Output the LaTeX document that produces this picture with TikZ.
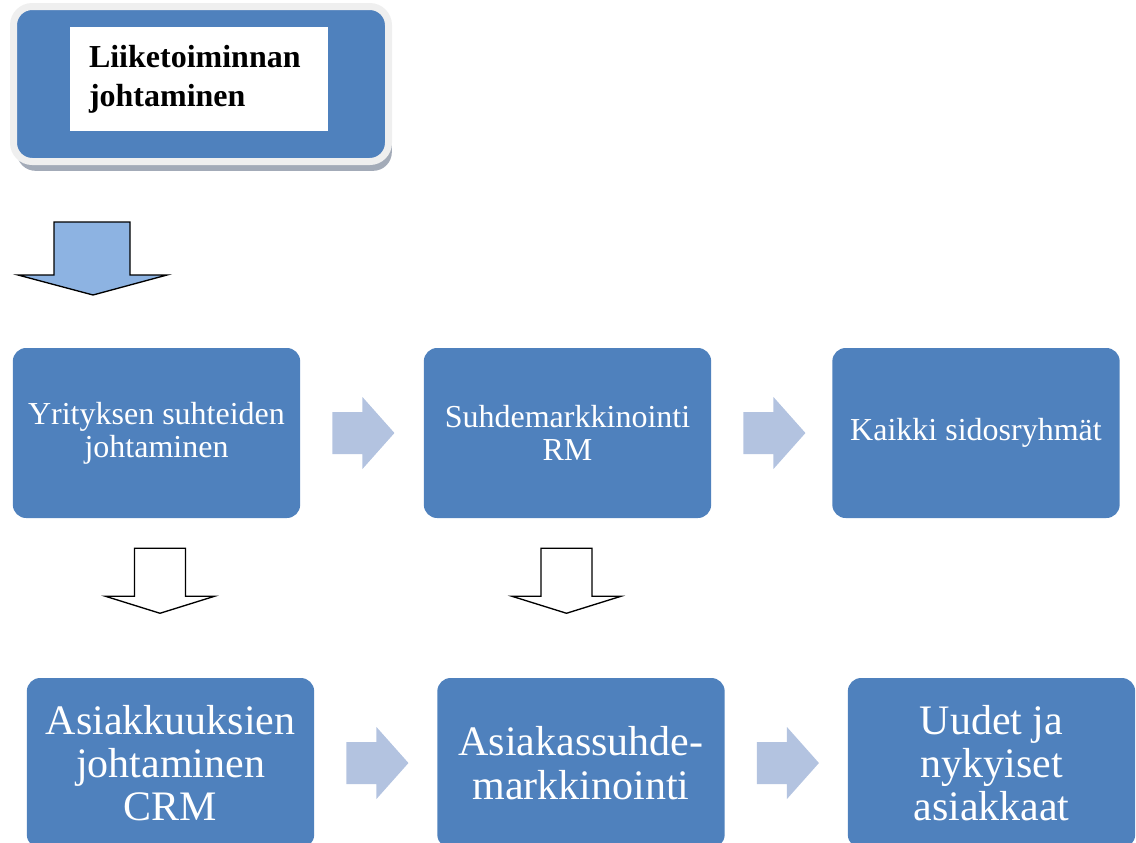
\documentclass[tikz,border=0pt]{standalone}
\usepackage{fontspec}
\setmainfont{Liberation Serif}
\usepackage{tikz}
\usetikzlibrary{calc, shadows}
\definecolor{BoxBlue}{HTML}{4F81BD}
\definecolor{PaleArrow}{HTML}{B3C3E0}
\definecolor{SkyArrow}{HTML}{8DB3E2}
\definecolor{FrameGray}{HTML}{EFEFEF}
\definecolor{ShadowGray}{HTML}{A3ABB8}
\tikzset{
  flowbox/.style={rectangle, rounded corners=10pt, fill=BoxBlue, text=white,
    align=center, minimum width=215.5pt, minimum height=127.5pt, inner sep=2pt},
  smalltext/.style={font=\fontsize{24}{25}\selectfont},
  bigtext/.style={font=\fontsize{31.5}{32.5}\selectfont},
  palearrow/.style={fill=PaleArrow},
  hollowarrow/.style={draw=black, line width=1pt, fill=white, line join=miter},
}

\begin{document}
\begin{tikzpicture}[x=0.75pt, y=-0.75pt]
  \useasboundingbox (0,0) rectangle (1136,843);
  \clip (0,0) rectangle (1136,843);
  % Top box
  \node[rectangle, rounded corners=14pt, fill=BoxBlue, draw=FrameGray, line width=5.25pt,
        minimum width=281.25pt, minimum height=116.25pt,
        drop shadow={shadow xshift=2.5pt, shadow yshift=-7pt, fill=ShadowGray, opacity=1}]
    (liike) at (201,84) {};
  \node[fill=white, minimum width=193.5pt, minimum height=78pt, text width=165pt,
        align=left, inner xsep=14pt, font=\bfseries\fontsize{24}{29}\selectfont]
    (liikeText) at (199,79) {Liiketoiminnan\\johtaminen};
  % Big arrow down
  \draw[hollowarrow, fill=SkyArrow] (54,222) -- (130,222) -- (130,275) -- (167,275)
    -- (93,295) -- (18,275) -- (54,275) -- cycle;
  % Upper row
  \node[flowbox, smalltext] (yrit) at (156.5,433) {Yrityksen suhteiden\\johtaminen};
  \node[flowbox, smalltext] (suhde) at (567.5,433) {Suhdemarkkinointi\\RM};
  \node[flowbox, smalltext] (kaikki) at (976,433) {Kaikki sidosryhmät};
  % Lower row
  \node[flowbox, bigtext] (asiak) at (170.5,763) {Asiakkuuksien\\johtaminen\\CRM};
  \node[flowbox, bigtext] (asuhde) at (581,763) {Asiakassuhde-\\markkinointi};
  \node[flowbox, bigtext] (uudet) at (991.5,763) {Uudet ja\\nykyiset\\asiakkaat};
  % Arrows to the right
  \foreach \src in {yrit, suhde, asiak, asuhde}{
    \fill[palearrow] ($(\src.east)+(32,-21)$) -- ++(30,0) -- ++(0,-15) -- ++(32,36)
      -- ++(-32,36) -- ++(0,-15) -- ++(-30,0) -- cycle;
  }
  % Arrows down
  \foreach \src/\dx in {yrit/3.5, suhde/-1}{
    \draw[hollowarrow] ($(\src.south)+(\dx-25.5,30)$) -- ++(51,0) -- ++(0,48) -- ++(29,0)
      -- ++(-54.5,17) -- ++(-54.5,-17) -- ++(29,0) -- cycle;
  }
\end{tikzpicture}
\end{document}
